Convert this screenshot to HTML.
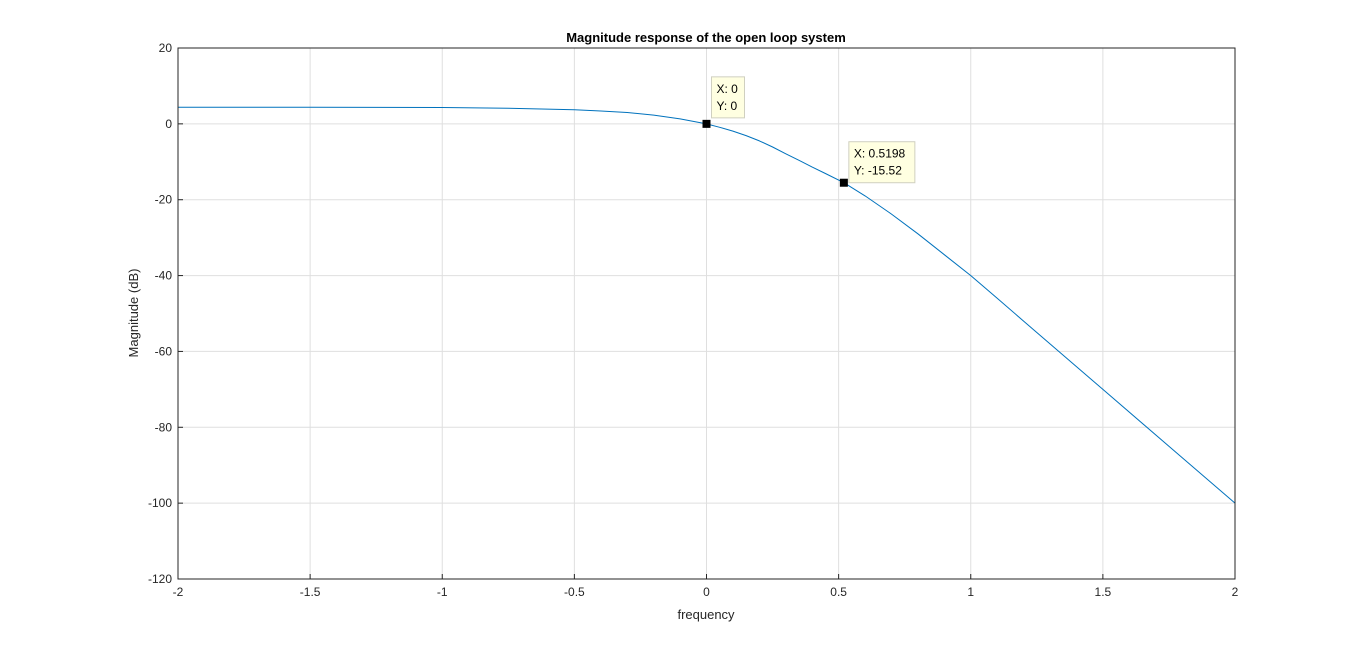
<!DOCTYPE html>
<html><head><meta charset="utf-8"><style>
body{margin:0;background:#fff;}
svg{display:block;font-family:"Liberation Sans",Arial,sans-serif;}
</style></head><body>
<svg id="chart" width="1366" height="651" viewBox="0 0 1366 651">
<rect x="0" y="0" width="1366" height="651" fill="#ffffff"/>
<rect x="178" y="48" width="1057" height="531" fill="#fff"/>
<g id="grid"></g>
<g id="ticks"></g>
<polyline id="curve" fill="none" stroke="#0072bd" stroke-width="1" stroke-linejoin="round"/>
<rect x="178" y="48" width="1057" height="531" fill="none" stroke="#262626" stroke-width="1"/>
<g id="tips"></g>
<text x="706" y="42" text-anchor="middle" font-size="13" font-weight="bold" fill="#000">Magnitude response of the open loop system</text>
<text x="706" y="619" text-anchor="middle" font-size="13" fill="#262626">frequency</text>
<text transform="translate(138,313) rotate(-90)" text-anchor="middle" font-size="13" fill="#262626">Magnitude (dB)</text>
</svg>
<script>
const xTicks=[-2,-1.5,-1,-0.5,0,0.5,1,1.5,2];
const yTicks=[20,0,-20,-40,-60,-80,-100,-120];
const freq=[-2,-1.5,-1,-0.75,-0.5,-0.4,-0.3,-0.2,-0.1,0,0.05,0.1,0.15,0.2,0.25,0.3,0.35,0.4,0.45,0.5198,0.6,0.7,0.8,0.9,1,1.1,1.2,1.25,1.5,1.75,2];
const mag=[4.4,4.4,4.3,4.1,3.7,3.4,3.0,2.3,1.3,0,-0.9,-1.9,-3.1,-4.5,-6.1,-7.9,-9.6,-11.4,-13.1,-15.52,-19,-23.8,-29,-34.5,-40,-46,-52,-55,-70,-85,-100];
const tipX=[0,0.5198];
const tipY=[0,-15.52];
const tipLabelX=["0","0.5198"];
const tipLabelY=["0","-15.52"];
const NS="http://www.w3.org/2000/svg";
const L=178,R=1235,T=48,B=579;
const sx=v=>L+(v+2)/4*(R-L);
const sy=v=>T+(20-v)/140*(B-T);
const grid=document.getElementById('grid'),ticks=document.getElementById('ticks');
function mk(tag,attrs,parent){const e=document.createElementNS(NS,tag);for(const k in attrs)e.setAttribute(k,attrs[k]);parent.appendChild(e);return e;}
xTicks.forEach(t=>{
  const x=sx(t);
  const g=mk('line',{x1:x,x2:x,y1:T,y2:B,stroke:'#dfdfdf','stroke-width':1},grid);
  
  
  const tk=mk('line',{x1:x,x2:x,y1:B,y2:B-5,stroke:'#262626'},ticks);
  
  
  const tx=mk('text',{x:x,y:B+17,'text-anchor':'middle','font-size':12,fill:'#262626'},ticks);
  
  
  tx.textContent=String(t);
});
yTicks.forEach(t=>{
  const y=sy(t);
  const g=mk('line',{x1:L,x2:R,y1:y,y2:y,stroke:'#dfdfdf','stroke-width':1},grid);
  
  
  const tk=mk('line',{x1:L,x2:L+5,y1:y,y2:y,stroke:'#262626'},ticks);
  
  
  const tx=mk('text',{x:L-6,y:y+4,'text-anchor':'end','font-size':12,fill:'#262626'},ticks);
  
  
  tx.textContent=String(t);
});
document.getElementById('curve').setAttribute('points',freq.map((f,i)=>sx(f).toFixed(1)+','+sy(mag[i]).toFixed(1)).join(' '));
const tips=document.getElementById('tips');
tipX.forEach((v,i)=>{
  const x=sx(v),y=sy(tipY[i]);
  const w=i===0?33:66;
  const bx=x+5,by=y-47+(i===0?0:6);
  const r=mk('rect',{x:bx,y:by,width:w,height:41,fill:'#ffffe1',stroke:'#d0d0c0'},tips);
  
  
  const t1=mk('text',{x:bx+5,y:by+16,'font-size':12,fill:'#000'},tips);
  
  
  t1.textContent='X: '+tipLabelX[i];
  const t2=mk('text',{x:bx+5,y:by+33,'font-size':12,fill:'#000'},tips);
  
  
  t2.textContent='Y: '+tipLabelY[i];
  const m=mk('rect',{x:x-4,y:y-4,width:8,height:8,fill:'#000'},tips);
  
  
});
</script>
</body></html>
